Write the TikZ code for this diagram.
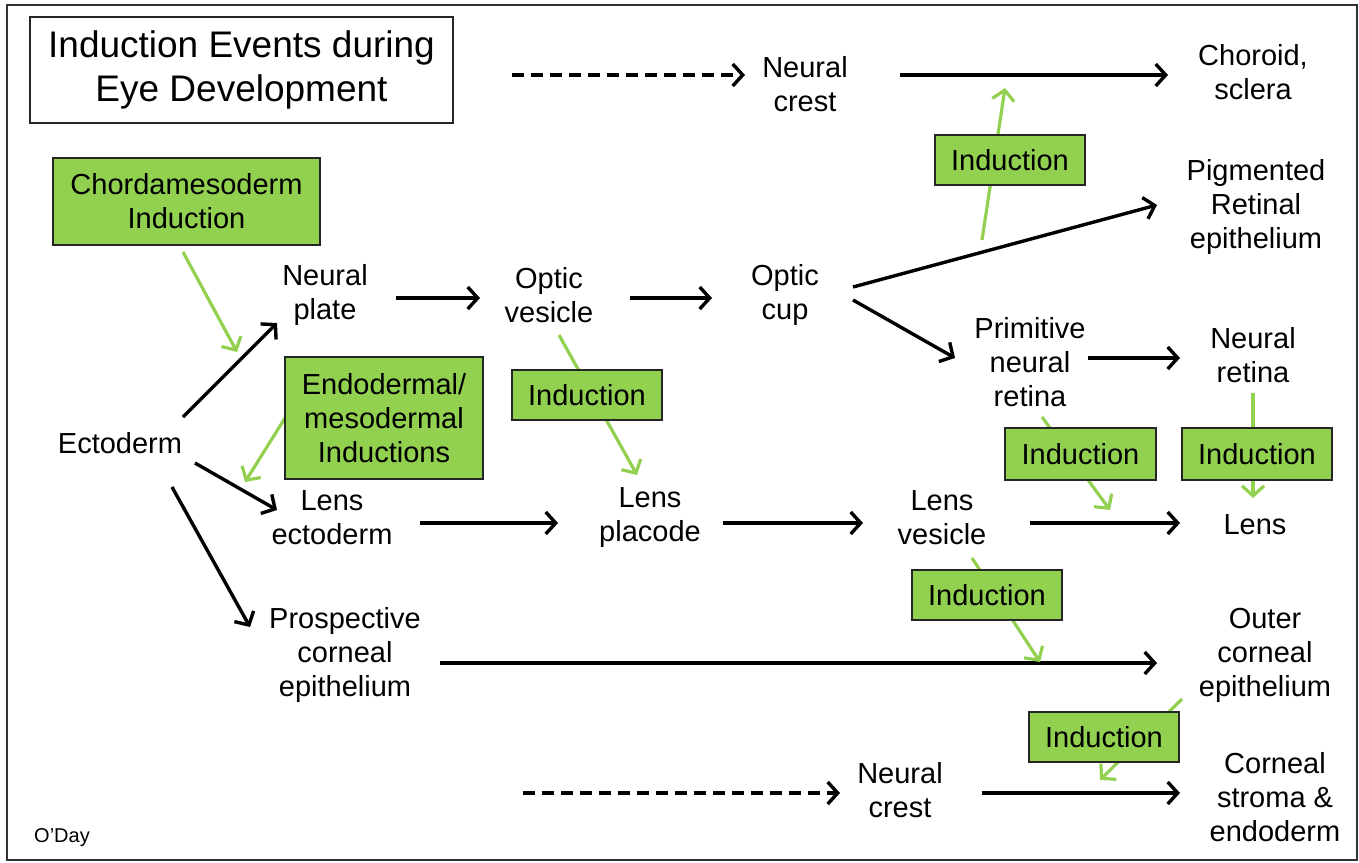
\documentclass[tikz,border=0pt]{standalone}
\usepackage{fontspec}
\setmainfont{Liberation Sans}
\usetikzlibrary{arrows.meta,calc}
\definecolor{igreen}{RGB}{146,208,80}
\pgfdeclarelayer{bg}
\pgfsetlayers{bg,main}
\begin{document}
\begin{tikzpicture}[x=1pt,y=1pt,
  txt/.style={font=\fontsize{29}{34}\selectfont, align=center, inner sep=0pt},
  gbox/.style={draw=black!85, line width=1.8pt, fill=igreen, inner sep=0pt, align=center,
    font=\fontsize{29}{34}\selectfont},
  arr/.style={line width=3.4pt, -{Straight Barb[length=10pt,width=22pt,line width=3.4pt]}},
  darr/.style={arr, dash pattern=on 12pt off 7pt},
  garr/.style={draw=igreen, line width=3.2pt, -{Straight Barb[length=10pt,width=22pt,line width=3.2pt]}}
]
\useasboundingbox (0,0) rectangle (1359,-862);
\draw[line width=2.4pt, black!80] (7,-5) rectangle (1357,-860);

% title
\node[draw=black!85, line width=1.8pt, minimum width=423pt, minimum height=106pt, align=center,
  font=\fontsize{37}{44}\selectfont, inner sep=0pt] (title) at (241.5,-70) {Induction Events during\\Eye Development};

% green boxes
\node[gbox, minimum width=267pt, minimum height=87pt] (chorda) at (186.5,-201.5) {Chordamesoderm\\Induction};
\node[gbox, minimum width=198pt, minimum height=122pt] (endo) at (384,-418) {Endodermal/\\mesodermal\\Inductions};
\node[gbox, minimum width=150pt, minimum height=50pt] (ind1) at (587,-395) {Induction};
\node[gbox, minimum width=150pt, minimum height=50pt] (ind2) at (1010,-160) {Induction};
\node[gbox, minimum width=151pt, minimum height=52pt] (ind3) at (1080.5,-454) {Induction};
\node[gbox, minimum width=150pt, minimum height=52pt] (ind4) at (1257,-454) {Induction};
\node[gbox, minimum width=150pt, minimum height=50pt] (ind5) at (987,-595) {Induction};
\node[gbox, minimum width=150pt, minimum height=50pt] (ind6) at (1104,-737) {Induction};

% text nodes
\node[txt] (ecto) at (120,-443) {Ectoderm};
\node[txt] (nplate) at (325,-295) {Neural\\plate};
\node[txt] (ovesicle) at (549,-295) {Optic\\vesicle};
\node[txt] (ocup) at (785,-295) {Optic\\cup};
\node[txt] (ncrest1) at (805,-84) {Neural\\crest};
\node[txt] (choroid) at (1253,-72) {Choroid,\\sclera};
\node[txt] (pigm) at (1256,-207) {Pigmented\\Retinal\\epithelium};
\node[txt] (prim) at (1030,-362) {Primitive\\neural\\retina};
\node[txt] (nretina) at (1253,-355) {Neural\\retina};
\node[txt] (lensect) at (332,-518) {Lens\\ectoderm};
\node[txt] (lensplac) at (650,-518) {Lens\\placode};
\node[txt] (lensves) at (942,-518) {Lens\\vesicle};
\node[txt] (lens) at (1255,-525) {Lens};
\node[txt] (prosp) at (345,-655) {Prospective\\corneal\\epithelium};
\node[txt] (outer) at (1265,-655) {Outer\\corneal\\epithelium};
\node[txt] (ncrest2) at (900,-790) {Neural\\crest};
\node[txt] (corneal) at (1275,-797) {Corneal\\stroma \&\\endoderm};
\node[inner sep=0pt, font=\fontsize{20}{24}\selectfont] (oday) at (62,-838) {O’Day};

\coordinate (d1) at (512,-75);
\coordinate (d2) at (523,-793);

\begin{pgfonlayer}{bg}
% dashed
\draw[darr] (d1) -- ($(ncrest1)+(-60,9)$);
\draw[darr] (d2) -- ($(ncrest2)+(-60,-3)$);
% black arrows
\draw[arr] ($(ncrest1)+(95,9)$) -- ($(choroid)+(-85,-3)$);
\draw[arr] ($(ocup)+(68,8)$) -- ($(pigm)+(-99,2)$);
\draw[arr] ($(ocup)+(68,-5)$) -- ($(prim)+(-75,4)$);
\draw[arr] ($(prim)+(58,4)$) -- ($(nretina)+(-73,-3)$);
\draw[arr] ($(lensves)+(88,-5)$) -- ($(lens)+(-75,2)$);
\draw[arr] ($(nplate)+(71,-3)$) -- ($(ovesicle)+(-69,-3)$);
\draw[arr] ($(ovesicle)+(81,-3)$) -- ($(ocup)+(-73,-3)$);
\draw[arr] ($(ecto)+(63,26)$) -- ($(nplate)+(-48,-28)$);
\draw[arr] ($(ecto)+(75,-20)$) -- ($(lensect)+(-55,8)$);
\draw[arr] ($(ecto)+(52,-44)$) -- ($(prosp)+(-95,28)$);
\draw[arr] ($(lensect)+(88,-5)$) -- ($(lensplac)+(-92,-5)$);
\draw[arr] ($(lensplac)+(73,-5)$) -- ($(lensves)+(-79,-5)$);
\draw[arr] ($(prosp)+(95,-8)$) -- ($(outer)+(-108,-8)$);
\draw[arr] ($(ncrest2)+(82,-3)$) -- ($(corneal)+(-95,4)$);
% green arrows
\draw[garr] ($(ind2)+(-28,-80)$) -- ($(ind2)+(-5,72)$);
\draw[garr] ($(ind3)+(-38.5,37)$) -- ($(ind3)+(29.5,-56)$);
\draw[garr] ($(ind4)+(-4,61)$) -- ($(ind4)+(-4,-44)$);
\draw[garr] ($(ind5)+(-15,37)$) -- ($(ind5)+(53,-67)$);
\draw[garr] ($(ind1)+(-28,60)$) -- ($(ind1)+(50,-80)$);
\draw[garr] ($(chorda)+(-3.5,-50.5)$) -- ($(chorda)+(50.5,-150.5)$);
\draw[garr] ($(endo)+(-99,0)$) -- ($(endo)+(-139,-64)$);
\draw[garr] ($(ind6)+(78,38)$) -- ($(ind6)+(-4,-43)$);
\end{pgfonlayer}
\end{tikzpicture}
\end{document}
